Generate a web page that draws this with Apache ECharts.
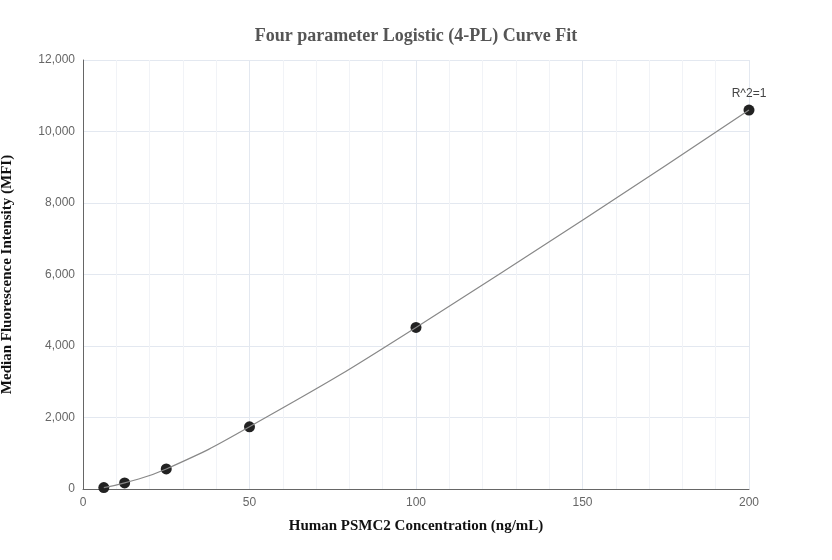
<!DOCTYPE html>
<html><head><meta charset="utf-8">
<script src="https://cdn.jsdelivr.net/npm/echarts@6/dist/echarts.min.js"></script>
<style>html,body{margin:0;padding:0;background:#fff}#c{width:832px;height:560px}</style>
</head><body><div id="c"></div>
<script>
const concentrations = [6.25, 12.5, 25, 50, 100, 200];
const mfi = [40, 170, 560, 1740, 4520, 10600];
const xTicks = [0, 50, 100, 150, 200];
const yTicks = [0, 2000, 4000, 6000, 8000, 10000, 12000];
const pts = concentrations.map((c, i) => [c, mfi[i]]);
const chart = echarts.init(document.getElementById('c'));
chart.setOption({
  animation: false,
  title: {text: 'Four parameter Logistic (4-PL) Curve Fit', left: 'center', top: 22,
    textStyle: {fontFamily: 'Liberation Serif', fontSize: 18, fontWeight: 'bold', color: '#555'}},
  grid: {left: 83, right: 83, top: 60, bottom: 71, containLabel: false, outerBoundsMode: 'none'},
  xAxis: {type: 'value', min: xTicks[0], max: xTicks[xTicks.length-1], interval: 50,
    name: 'Human PSMC2 Concentration (ng/mL)', nameLocation: 'middle', nameGap: 30,
    nameTextStyle: {fontFamily: 'Liberation Serif', fontWeight: 'bold', fontSize: 15, color: '#111'},
    axisLine: {lineStyle: {color: '#666'}}, axisTick: {show: false},
    axisLabel: {color: '#666', fontSize: 12},
    splitLine: {lineStyle: {color: '#e3e8f0'}},
    minorTick: {show: false, splitNumber: 5},
    minorSplitLine: {show: true, lineStyle: {color: '#f1f3f7'}}},
  yAxis: {type: 'value', min: yTicks[0], max: yTicks[yTicks.length-1], interval: 2000,
    name: 'Median Fluorescence Intensity (MFI)', nameLocation: 'middle', nameGap: 68,
    nameTextStyle: {fontFamily: 'Liberation Serif', fontWeight: 'bold', fontSize: 15, color: '#111'},
    axisLine: {show: true, lineStyle: {color: '#666'}}, axisTick: {show: false},
    axisLabel: {color: '#666', fontSize: 12, formatter: v => v.toLocaleString('en-US')},
    splitLine: {lineStyle: {color: '#e3e8f0'}}},
  series: [
    {type: 'line', data: pts, smooth: true, symbol: 'none',
      lineStyle: {color: '#888', width: 1.2}, silent: true},
    {type: 'scatter', data: pts, symbolSize: 11, itemStyle: {color: '#222', opacity: 1},
      label: {show: true, position: 'top', color: '#444', fontSize: 12,
        formatter: p => p.dataIndex === pts.length - 1 ? 'R^2=1' : ''}}
  ]
});
</script></body></html>
